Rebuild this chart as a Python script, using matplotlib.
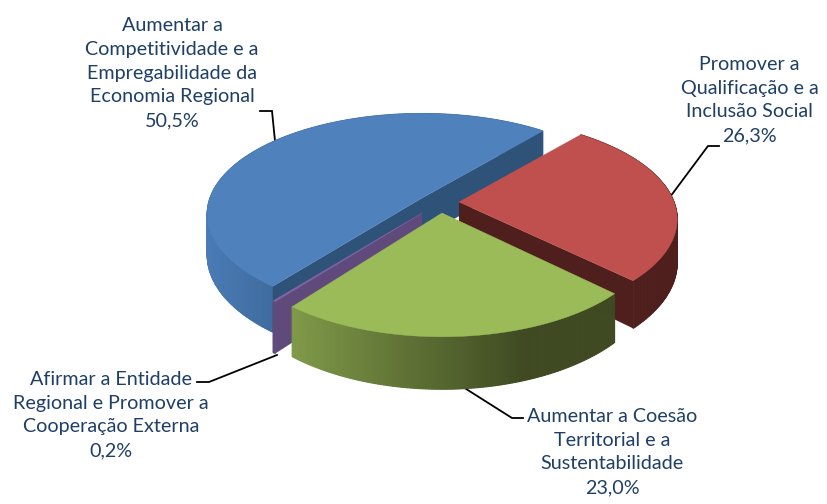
import numpy as np
import matplotlib
matplotlib.use("Agg")
import matplotlib.pyplot as plt
from matplotlib.colors import to_rgb

# ---- data ----
categories = ["Aumentar a\nCompetitividade e a\nEmpregabilidade da\nEconomia Regional",
              "Promover a\nQualificação e a\nInclusão Social",
              "Aumentar a Coesão\nTerritorial e a\nSustentabilidade",
              "Afirmar a Entidade\nRegional e Promover a\nCooperação Externa"]
shares = [50.5, 26.3, 23.0, 0.2]
share_labels = ["50,5%", "26,3%", "23,0%", "0,2%"]

# ---- style / layout ----
TOP = ["#4F81BD", "#C0504D", "#9BBB59", "#8064A2"]
WALL_A = ["#4A7BB5", "#4E1F1D", "#7F9A48", "#5F4A7B"]
WALL_B = ["#3F6B9E", "#4E1F1D", "#3F4A22", "#5F4A7B"]
CUT = ["#2F5279", "#4E1F1D", "#3F4A22", "#5F4A7B"]
APEX = [(422, 198), (459, 202), (442, 213), (422, 213)]
AX_A = [212.0, 215.0, 208.0, 215.0]
AX_B = [98.0, 99.0, 99.0, 99.0]
PERSP = [0.16, 0.17, 0.20, 0.141]
DEPTH = [40.0, 42.0, 42.0, 46.0]
START = 218.0
TEXT = "#1F3F66"
FRONT_CUTS = {0: (0, 1), 1: (1,), 2: (), 3: (0,)}

fig = plt.figure(figsize=(8.27, 5.04), dpi=100)
ax = fig.add_axes([0, 0, 1, 1])
ax.set_xlim(0, 827)
ax.set_ylim(504, 0)
ax.axis("off")


def project(theta, i, r=1.0, drop=0.0):
    t = np.radians(theta)
    u, v = r * np.sin(t), -r * np.cos(t)
    den = 1 - PERSP[i] * v
    return APEX[i][0] + AX_A[i] * u / den, APEX[i][1] + (AX_B[i] * v + drop) / den


edges = START + np.concatenate([[0], np.cumsum(shares)]) * 3.6


def cut_face(theta, i, z):
    x0, y0 = project(theta, i, r=0.0)
    x1, y1 = project(theta, i)
    x2, y2 = project(theta, i, drop=DEPTH[i])
    x3, y3 = project(theta, i, r=0.0, drop=DEPTH[i])
    ax.fill([x0, x1, x2, x3], [y0, y1, y2, y3], color=CUT[i], lw=0, zorder=z)


def draw_slice(i, z):
    t0, t1 = edges[i], edges[i + 1]
    thetas = np.linspace(t0, t1, max(3, int((t1 - t0) * 1.5)))
    xs, ys = project(thetas, i)
    xb, yb = project(thetas, i, drop=DEPTH[i])
    ca, cb = np.array(to_rgb(WALL_A[i])), np.array(to_rgb(WALL_B[i]))
    span = max(xs.max() - xs.min(), 1)
    for j in range(len(thetas) - 1):
        if i == 2:
            f = 1 - np.clip(((xs[j] - xs.min()) / span) / 0.72, 0, 1)
        elif i == 0:
            f = 1 - np.clip((xs[j] - xs.min()) / 70, 0, 1)
        else:
            f = 1.0
        col = tuple(ca * f + cb * (1 - f))
        ax.fill([xs[j], xs[j + 1], xb[j + 1], xb[j]],
                [ys[j], ys[j + 1], yb[j + 1], yb[j]],
                color=col, lw=0.8, zorder=z)
    for k in FRONT_CUTS[i]:
        cut_face((t0, t1)[k], i, z + 0.1)
    ax.fill(np.r_[APEX[i][0], xs], np.r_[APEX[i][1], ys], color=TOP[i], lw=0.3, zorder=z + 0.2)


for z, i in enumerate((0, 3, 1, 2)):
    draw_slice(i, 2 + z)

# ---- leader lines ----
leaders = [([275, 272, 260], [141, 111, 111]),
           ([670, 708, 719], [197, 146, 146]),
           ([463, 512, 523], [387, 418, 418]),
           ([277, 209, 197], [355, 382, 382])]
for lx, ly in leaders:
    ax.plot(lx, ly, color="black", lw=1.3, zorder=1, solid_joinstyle="miter")

# ---- labels ----
anchors = [(172, 73), (749.5, 100), (612, 452), (111, 415)]
for name, val, (x, y) in zip(categories, share_labels, anchors):
    ax.text(x, y, name + "\n" + val, ha="center", va="center", color=TEXT,
            family="Lato", fontsize=14.2, linespacing=1.484, zorder=10)

fig.savefig("out.png", dpi=100, facecolor="white")
